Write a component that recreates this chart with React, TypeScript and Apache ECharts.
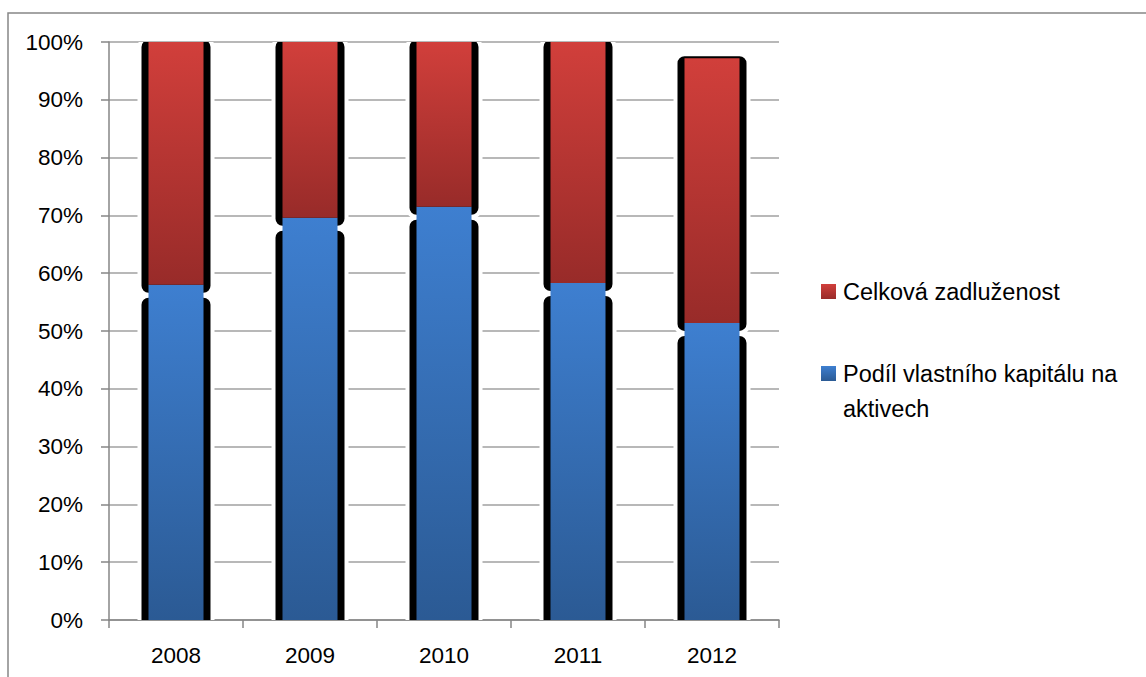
import React, { useEffect, useRef } from "react";
import * as echarts from "echarts";

const years = ["2008", "2009", "2010", "2011", "2012"];
const equityShare = [58.0, 69.6, 71.5, 58.3, 51.4];
const totalDebt = [42.0, 30.4, 28.5, 41.7, 45.8];
const seriesNames = ["Podíl vlastního kapitálu na aktivech", "Celková zadluženost"];
const legendLabels = ["Celková zadluženost", "Podíl vlastního kapitálu na\naktivech"];

const FONT = "Liberation Sans";
const blueGrad = () =>
  new echarts.graphic.LinearGradient(0, 0, 0, 1, [
    { offset: 0, color: "#3e7fd0" },
    { offset: 1, color: "#2b5a94" },
  ]);
const redGrad = () =>
  new echarts.graphic.LinearGradient(0, 0, 0, 1, [
    { offset: 0, color: "#d13f3b" },
    { offset: 1, color: "#982b29" },
  ]);

export default function App() {
  const ref = useRef<HTMLDivElement>(null);
  useEffect(() => {
    if (!ref.current) return;
    const chart = echarts.init(ref.current, null, { renderer: "svg" });

    const shadowData: number[][] = [];
    years.forEach((_, i) => {
      shadowData.push([i, 0, equityShare[i], 0]);
      shadowData.push([i, equityShare[i], equityShare[i] + totalDebt[i], 1]);
    });

    chart.setOption({
      animation: false,
      backgroundColor: "#ffffff",
      textStyle: { fontFamily: FONT },
      grid: { left: 109, right: 367, top: 42, bottom: 57 },
      xAxis: {
        type: "category",
        data: years,
        axisLine: { lineStyle: { color: "#868686", width: 1.5 } },
        axisTick: { show: true, alignWithLabel: false, length: 8, lineStyle: { color: "#868686", width: 1.5 } },
        axisLabel: { color: "#000", fontSize: 22.5, fontFamily: FONT, margin: 24 },
      },
      yAxis: {
        type: "value",
        min: 0,
        max: 100,
        interval: 10,
        axisLine: { show: true, lineStyle: { color: "#868686", width: 1.5 } },
        axisTick: { show: true, length: 8, lineStyle: { color: "#868686", width: 1.5 } },
        axisLabel: { color: "#000", fontSize: 22.5, fontFamily: FONT, margin: 26, formatter: "{value}%" },
        splitLine: { lineStyle: { color: "#a0a0a0", width: 1.5 } },
      },
      graphic: [
        {
          type: "rect",
          shape: { x: 8, y: 13, width: 1300, height: 800 },
          style: { fill: "none", stroke: "#878787", lineWidth: 1.5 },
          silent: true,
          z: 0,
        },
        {
          type: "rect",
          shape: { x: 821, y: 284, width: 15, height: 15 },
          style: { fill: redGrad() },
        },
        {
          type: "text",
          x: 843,
          y: 292,
          style: { text: legendLabels[0], font: `23.5px '${FONT}'`, fill: "#000", verticalAlign: "middle" },
        },
        {
          type: "rect",
          shape: { x: 821, y: 366, width: 15, height: 15 },
          style: { fill: blueGrad() },
        },
        {
          type: "text",
          x: 843,
          y: 356,
          style: { text: legendLabels[1], font: `23.5px '${FONT}'`, fill: "#000", lineHeight: 35, verticalAlign: "top" },
        },
      ],
      series: [
        {
          type: "custom",
          clip: true,
          z: 1,
          silent: true,
          data: shadowData,
          renderItem: (params: any, api: any) => {
            const i = api.value(0);
            const lo = api.value(1);
            const hi = api.value(2);
            const seg = api.value(3);
            const pTop = api.coord([i, hi]);
            const pBot = api.coord([i, lo]);
            const top = pTop[1] + (seg === 1 ? -4 : 11);
            const bot = pBot[1] + 10;
            return {
              type: "rect",
              shape: { x: pTop[0] - 36.5, y: top, width: 73, height: bot - top, r: 9 },
              style: { fill: "#000", stroke: "#fff", lineWidth: 4 },
            };
          },
        },
        {
          name: seriesNames[0],
          type: "bar",
          stack: "total",
          barWidth: 55,
          z: 3,
          data: equityShare,
          itemStyle: { color: blueGrad() },
        },
        {
          name: seriesNames[1],
          type: "bar",
          stack: "total",
          barWidth: 55,
          z: 3,
          data: totalDebt,
          itemStyle: { color: redGrad() },
        },
      ],
    });
    return () => chart.dispose();
  }, []);

  return (
    <div
      ref={ref}
      style={{ position: "fixed", left: 0, top: 0, width: 1146, height: 677, background: "#fff" }}
    />
  );
}
